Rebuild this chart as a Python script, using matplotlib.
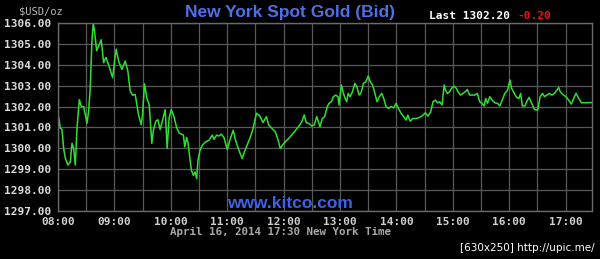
import matplotlib
matplotlib.use("Agg")
import matplotlib.pyplot as plt
import numpy as np

# minutes after 08:00 and bid price
minutes = [0, 1.4, 2.5, 4.2, 6.0, 7.8, 10.6, 13.1, 14.9, 16.6, 18.4, 20.2, 22.7, 24.8,
           27.3, 30.8, 32.6, 34.3, 36.1, 37.5, 38.9, 41.1, 43.2, 46.0, 48.5, 51.0,
           53.8, 58.1, 60.2, 61.9, 64.4, 68.0, 71.5, 74.3, 76.8, 79.3, 82.1, 85.7,
           88.5, 89.9, 92.0, 94.5, 97.0, 99.8, 101.6, 104.1, 106.2, 108.7, 112.2,
           114.0, 116.1, 118.2, 120.4, 122.8, 126.4, 128.9,
           133.4, 134.8, 136.9, 138.4, 140.5, 141.9, 144.0, 145.8, 147.5, 148.9,
           151.1, 153.5, 157.1, 160.6, 164.1, 165.9, 168.7, 171.2, 173.6, 176.5,
           180.0, 182.8, 186.4, 188.8, 192.4, 195.9, 198.3, 201.2, 204.7, 207.5,
           211.1, 214.6, 218.1, 221.6, 224.1, 227.6, 231.2, 233.6, 236.5, 240.0,
           245.3, 250.6, 255.9, 259.4, 261.9, 264.0, 266.5, 270.0, 272.5, 275.3,
           278.6, 281.1, 283.6, 286.4, 288.2, 290.7, 292.9, 295.4, 297.9, 298.9,
           301.4, 303.6, 305.4, 307.1, 308.6, 310.7, 313.2, 315.7, 317.9, 320.3,
           322.1, 325.0, 327.5, 330.0, 332.1, 334.6, 337.1, 339.3, 341.8, 344.3,
           346.4, 348.9, 351.4, 354.3, 357.1, 359.6, 362.1, 365.0, 367.8, 370.3,
           372.1, 374.6, 377.5, 381.0, 384.6, 388.2, 390.7, 393.5, 396.4, 398.9,
           401.4, 403.5, 406.0, 408.5, 410.7, 412.1, 414.2, 416.7, 418.5, 421.4,
           423.6, 425.4, 428.2, 430.7, 433.2, 435.4, 437.9, 440.4, 443.2, 446.1,
           448.6, 451.1, 453.2, 455.0, 456.8, 459.3, 461.8, 464.6, 467.5, 470.0,
           472.5, 475.3, 478.2, 480.7, 482.5, 485.3, 487.8, 490.3, 492.1, 493.9,
           496.8, 498.5, 501.0, 503.9, 506.8, 510.3, 512.8, 515.3, 517.5, 520.0,
           522.5, 525.3, 528.2, 530.7, 532.5, 534.2, 537.8, 540.3, 543.2, 546.0,
           548.5, 551.0, 553.9, 556.7, 561.0, 570.0]
prices = [1301.64, 1301.29, 1300.97, 1300.90, 1300.00, 1299.52, 1299.20, 1299.36, 1300.24,
          1300.00, 1299.20, 1300.97, 1302.33, 1302.00, 1302.00, 1301.20, 1301.77, 1302.90,
          1305.15, 1306.00, 1305.60, 1304.67, 1304.90, 1305.20, 1304.10, 1304.35, 1304.00,
          1303.38, 1304.18, 1304.75, 1304.18, 1303.78, 1304.18, 1303.70, 1302.74, 1302.54,
          1302.58, 1301.60, 1301.13, 1301.60, 1303.09, 1302.41, 1302.09, 1300.24, 1300.90,
          1301.30, 1301.37, 1300.90, 1301.53, 1301.85, 1300.00, 1301.45, 1301.85, 1301.60,
          1300.97, 1300.73,
          1300.63, 1300.07, 1300.52, 1300.23, 1299.43, 1298.95, 1298.71, 1298.87, 1298.55,
          1299.43, 1299.91, 1300.15, 1300.31, 1300.39, 1300.63, 1300.43, 1300.63, 1300.59,
          1300.68, 1300.52, 1299.95, 1300.39, 1300.87, 1300.39, 1299.91, 1299.51, 1299.83,
          1300.15, 1300.55, 1300.95, 1301.68, 1301.55, 1301.23, 1301.52, 1301.12, 1300.95,
          1300.79, 1300.47, 1299.99, 1300.23, 1300.47, 1300.75, 1301.04, 1301.28, 1301.60,
          1301.23, 1301.20, 1301.07, 1301.12, 1301.52,
          1301.03, 1301.43, 1301.51, 1302.00, 1302.15, 1302.23, 1302.47, 1302.55, 1302.47,
          1302.07, 1303.03, 1302.63, 1302.39, 1302.23, 1302.63, 1302.47, 1302.71, 1303.11,
          1302.95, 1302.55, 1302.63, 1303.11, 1303.19, 1303.46, 1303.19, 1303.03, 1302.63,
          1302.23, 1302.47, 1302.63, 1302.39, 1302.00, 1301.91, 1302.00, 1301.94, 1302.15,
          1301.91, 1301.67, 1301.51, 1301.35, 1301.59, 1301.30, 1301.43, 1301.43, 1301.48,
          1301.59, 1301.70, 1301.54, 1301.75, 1302.23, 1302.31, 1302.18, 1302.23, 1302.07,
          1303.03, 1302.79, 1302.63, 1302.71, 1302.87, 1302.98,
          1302.87, 1302.71, 1302.55, 1302.63, 1302.71, 1302.82, 1302.55, 1302.55, 1302.55,
          1302.63, 1302.23, 1302.15, 1302.03, 1302.39, 1302.15, 1302.47, 1302.31, 1302.18,
          1302.15, 1302.03, 1302.31, 1302.63, 1302.79, 1303.27, 1302.87, 1302.63, 1302.44,
          1302.39, 1302.63, 1302.03, 1302.03, 1302.23, 1302.44, 1302.15, 1301.86, 1301.83,
          1302.47, 1302.63, 1302.47, 1302.55, 1302.63, 1302.55, 1302.63, 1302.79, 1302.92,
          1302.71, 1302.55, 1302.47, 1302.31, 1302.12, 1302.39, 1302.63, 1302.39, 1302.18,
          1302.18, 1302.20]

hour_labels = ["08:00", "09:00", "10:00", "11:00", "12:00", "13:00", "14:00", "15:00", "16:00", "17:00"]
price_ticks = [1297, 1298, 1299, 1300, 1301, 1302, 1303, 1304, 1305, 1306]

fig = plt.figure(figsize=(6.0, 2.59), dpi=100, facecolor="black")
ax = fig.add_axes([58 / 600, 1 - 211 / 259, 534 / 600, 188 / 259])
ax.set_facecolor("black")

ax.plot(minutes, prices, color="#2ee02e", lw=1.1)

ax.set_xlim(0, 568)
ax.set_ylim(1297, 1306)
ax.set_xticks(np.arange(0, 568, 30), minor=False)
ax.set_xticks(np.arange(0, 568, 60), minor=True)
ax.set_xticklabels([])
ax.set_yticks(price_ticks)
ax.set_yticklabels(["%.2f" % p for p in price_ticks])
ax.grid(True, which="major", color="#595959", lw=0.9)
ax.tick_params(which="both", length=0)
ax.tick_params(axis="y", colors="#dcdcdc", labelsize=8, pad=5)
for lab in ax.get_yticklabels():
    lab.set_family("DejaVu Sans Mono")
    lab.set_fontweight("bold")
for s in ax.spines.values():
    s.set_color("#6a6a6a")
    s.set_linewidth(1.0)

for i, lab in enumerate(hour_labels):
    ax.text(i * 60, -0.033, lab, transform=ax.get_xaxis_transform(), ha="center", va="top",
            color="#d0d0d0", fontsize=8, family="DejaVu Sans Mono", fontweight="bold")

fig.text(19 / 600, 1 - 11 / 259, "$USD/oz", color="#b8b8b8", fontsize=7.5,
         family="DejaVu Sans Mono", va="center", ha="left")
fig.text(290 / 600, 1 - 12 / 259, "New York Spot Gold (Bid)", color="#4f6fe8", fontsize=12.5,
         family="Liberation Sans", fontweight="bold", ha="center", va="center")
fig.text(429 / 600, 1 - 16 / 259, "Last 1302.20", color="white", fontsize=8,
         family="DejaVu Sans Mono", fontweight="bold", va="center", ha="left")
fig.text(517 / 600, 1 - 16 / 259, "-0.20", color="#ee1111", fontsize=8,
         family="DejaVu Sans Mono", fontweight="bold", va="center", ha="left")
fig.text(290 / 600, 1 - 203 / 259, "www.kitco.com", color="#3c62e6", fontsize=12.5,
         family="Liberation Sans", fontweight="bold", ha="center", va="center")
fig.text(281 / 600, 1 - 232 / 259, "April 16, 2014 17:30 New York Time", color="#a8a8a8",
         fontsize=7.8, family="DejaVu Sans Mono", fontweight="bold", ha="center", va="center")
fig.text(595 / 600, 1 - 248 / 259, "[630x250] http://upic.me/", color="white", fontsize=7.5,
         family="DejaVu Sans", ha="right", va="center")

fig.savefig("out.png", dpi=100, facecolor="black")
